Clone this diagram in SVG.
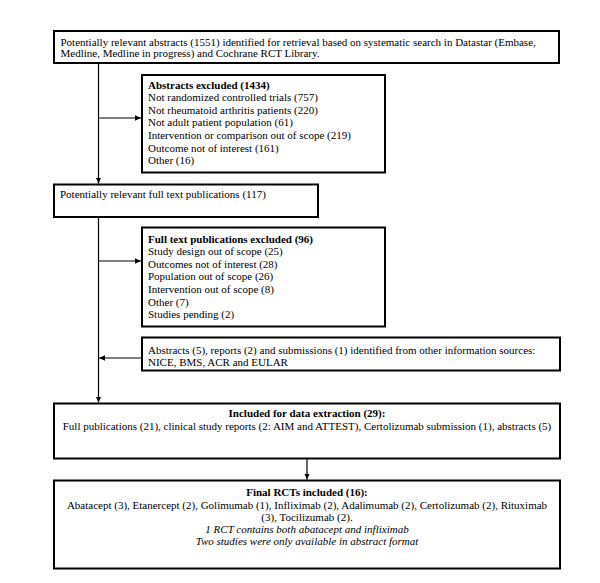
<svg xmlns="http://www.w3.org/2000/svg" width="600" height="583" viewBox="0 0 600 583">
<style>
.box{fill:#fff;stroke:#000;stroke-width:2}
.ln{stroke:#000;stroke-width:1.2;fill:none}
text{font-family:"Liberation Serif","Times New Roman",serif;font-size:11px;fill:#000}
.b{font-weight:bold}
.i{font-style:italic}
.c{text-anchor:middle}
</style>
<defs>
<marker id="ah" viewBox="0 0 10 10" refX="10" refY="5" markerWidth="6" markerHeight="5.5" markerUnits="userSpaceOnUse" orient="auto" preserveAspectRatio="none">
<path d="M0,0 L10,5 L0,10 z" fill="#000"/>
</marker>
</defs>
<rect width="600" height="583" fill="#fff"/>
<g id="connectors">
<line class="ln" x1="98.5" y1="64" x2="98.5" y2="183.5" marker-end="url(#ah)"/>
<line class="ln" x1="98.5" y1="118" x2="141" y2="118" marker-end="url(#ah)"/>
<line class="ln" x1="98.5" y1="218" x2="98.5" y2="402.5" marker-end="url(#ah)"/>
<line class="ln" x1="98.5" y1="261" x2="141" y2="261" marker-end="url(#ah)"/>
<line class="ln" x1="142" y1="358" x2="99" y2="358" marker-end="url(#ah)"/>
<line class="ln" x1="307" y1="459" x2="307" y2="479.5" marker-end="url(#ah)"/>
</g>
<g id="n1">
<rect class="box" x="54" y="31" width="505" height="32"/>
<text x="60.5" y="45.5">Potentially relevant abstracts (1551) identified for retrieval based on systematic search in Datastar (Embase,</text>
<text x="60.5" y="57">Medline, Medline in progress) and Cochrane RCT Library.</text>
</g>
<g id="n2">
<rect class="box" x="142" y="75" width="243" height="97.5"/>
<text x="148" y="88.5" class="b">Abstracts excluded (1434)</text>
<text x="148" y="101">Not randomized controlled trials (757)</text>
<text x="148" y="113.7">Not rheumatoid arthritis patients (220)</text>
<text x="148" y="126.3">Not adult patient population (61)</text>
<text x="148" y="139">Intervention or comparison out of scope (219)</text>
<text x="148" y="151.5">Outcome not of interest (161)</text>
<text x="148" y="164">Other (16)</text>
</g>
<g id="n3">
<rect class="box" x="54" y="184.5" width="264" height="32.5"/>
<text x="60" y="198">Potentially relevant full text publications (117)</text>
</g>
<g id="n4">
<rect class="box" x="142" y="227.5" width="243" height="99"/>
<text x="148" y="242.5" class="b">Full text publications excluded (96)</text>
<text x="148" y="255">Study design out of scope (25)</text>
<text x="148" y="267.7">Outcomes not of interest (28)</text>
<text x="148" y="280.3">Population out of scope (26)</text>
<text x="148" y="293">Intervention out of scope (8)</text>
<text x="148" y="305.5">Other (7)</text>
<text x="148" y="318">Studies pending (2)</text>
</g>
<g id="n5">
<rect class="box" x="142" y="337.5" width="418" height="33"/>
<text x="148" y="353.5">Abstracts (5), reports (2) and submissions (1) identified from other information sources:</text>
<text x="148" y="366">NICE, BMS, ACR and EULAR</text>
</g>
<g id="n6">
<rect class="box" x="54" y="403.5" width="506" height="55"/>
<text x="307" y="417" class="b c">Included for data extraction (29):</text>
<text x="307" y="429.5" class="c">Full publications (21), clinical study reports (2: AIM and ATTEST), Certolizumab submission (1), abstracts (5)</text>
</g>
<g id="n7">
<rect class="box" x="54" y="480.5" width="506" height="88"/>
<text x="307" y="495.5" class="b c">Final RCTs included (16):</text>
<text x="307" y="508.5" class="c">Abatacept (3), Etanercept (2), Golimumab (1), Infliximab (2), Adalimumab (2), Certolizumab (2), Rituximab</text>
<text x="307" y="521" class="c">(3), Tocilizumab (2).</text>
<text x="307" y="533" class="i c">1 RCT contains both abatacept and infliximab</text>
<text x="307" y="545" class="i c">Two studies were only available in abstract format</text>
</g>
</svg>
